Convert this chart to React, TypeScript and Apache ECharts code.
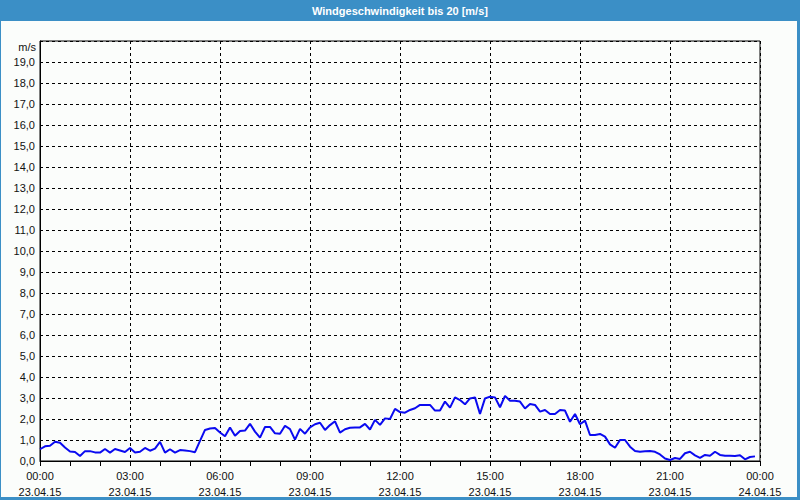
import React, { useEffect, useRef } from "react";
import * as echarts from "echarts";

const TITLE = "Windgeschwindigkeit bis 20 [m/s]";
const UNIT = "m/s";
const START_DAY = "23.04.15";
const END_DAY = "24.04.15";
const STEP_MINUTES = 10;

// wind speed every 10 minutes, 00:00 .. 23:50
const windSpeed = [
  0.56, 0.7, 0.73, 0.92, 0.87, 0.64, 0.45, 0.43, 0.24, 0.47, 0.47, 0.41,
  0.4, 0.57, 0.4, 0.57, 0.5, 0.43, 0.62, 0.4, 0.44, 0.62, 0.49, 0.59,
  0.91, 0.4, 0.56, 0.4, 0.52, 0.5, 0.47, 0.42, 0.96, 1.48, 1.55, 1.57,
  1.36, 1.18, 1.6, 1.2, 1.43, 1.45, 1.77, 1.4, 1.11, 1.62, 1.62, 1.32,
  1.3, 1.68, 1.52, 1.02, 1.53, 1.3, 1.6, 1.75, 1.82, 1.48, 1.71, 1.89,
  1.35, 1.51, 1.58, 1.59, 1.6, 1.77, 1.5, 1.96, 1.72, 2.03, 2.0, 2.48,
  2.33, 2.3, 2.43, 2.51, 2.67, 2.67, 2.67, 2.4, 2.4, 2.83, 2.54, 3.03,
  2.9, 2.7, 2.98, 3.03, 2.24, 2.98, 3.06, 3.03, 2.56, 3.1, 2.87, 2.87,
  2.83, 2.5, 2.71, 2.67, 2.35, 2.43, 2.24, 2.24, 2.43, 2.4, 1.87, 2.24,
  1.75, 1.92, 1.24, 1.24, 1.29, 1.16, 0.79, 0.63, 1.0, 1.0, 0.68, 0.48,
  0.44, 0.46, 0.48, 0.44, 0.31, 0.12, 0.05, 0.14, 0.1, 0.37, 0.44, 0.27,
  0.15, 0.29, 0.25, 0.44, 0.29, 0.25, 0.25, 0.24, 0.27, 0.08, 0.19, 0.22,
];

const Y_MIN = 0;
const Y_MAX = 20;
const X_MIN = 0;
const X_MAX = 1440;

const FONT = "'Liberation Sans', Arial, sans-serif";

export default function App() {
  const ref = useRef<HTMLDivElement>(null);

  useEffect(() => {
    document.body.style.margin = "0";
    const chart = echarts.init(ref.current!, null, { renderer: "svg" });
    const pad = (n: number) => (n < 10 ? "0" + n : "" + n);
    const data = windSpeed.map((v, i) => [i * STEP_MINUTES, v]);
    const blue = "#3b8fc6";

    chart.setOption({
      animation: false,
      backgroundColor: "#fbfdfb",
      grid: {
        left: 40,
        right: 40,
        top: 41,
        bottom: 39,
        show: true,
        borderColor: "#000",
        borderWidth: 1,
      },
      xAxis: {
        type: "value",
        min: X_MIN,
        max: X_MAX,
        interval: 180,
        axisLine: { show: true, lineStyle: { color: "#000", width: 1 } },
        axisTick: { show: true, length: 5, lineStyle: { color: "#000" } },
        minorTick: { show: true, splitNumber: 3, length: 5, lineStyle: { color: "#000" } },
        splitLine: { show: true, lineStyle: { color: "#000", type: [3, 3], width: 1 } },
        axisLabel: {
          margin: 7,
          color: "#111",
          fontFamily: FONT,
          fontSize: 11,
          lineHeight: 16,
          showMinLabel: true,
          showMaxLabel: true,
          formatter: (v: number) => {
            const h = Math.floor(v / 60) % 24;
            const m = v % 60;
            return pad(h) + ":" + pad(m) + "\n" + (v >= X_MAX ? END_DAY : START_DAY);
          },
        },
      },
      yAxis: {
        type: "value",
        min: Y_MIN,
        max: Y_MAX,
        interval: 1,
        axisLine: { show: true, lineStyle: { color: "#000", width: 1 } },
        axisTick: { show: false },
        splitLine: { show: true, lineStyle: { color: "#000", type: [3, 3], width: 1 } },
        axisLabel: {
          margin: 5,
          color: "#111",
          fontFamily: FONT,
          fontSize: 11,
          formatter: (v: number) => (v >= Y_MAX ? "" : v.toFixed(1).replace(".", ",")),
        },
      },
      graphic: [
        { type: "rect", shape: { x: 0, y: 0, width: 800, height: 21 }, style: { fill: blue }, silent: true },
        { type: "rect", shape: { x: 0, y: 21, width: 1, height: 479 }, style: { fill: blue }, silent: true },
        { type: "rect", shape: { x: 797, y: 21, width: 3, height: 479 }, style: { fill: blue }, silent: true },
        { type: "rect", shape: { x: 0, y: 497, width: 800, height: 3 }, style: { fill: blue }, silent: true },
        {
          type: "text",
          x: 400,
          y: 11,
          style: {
            text: TITLE,
            fill: "#fff",
            font: "bold 11px " + FONT,
            textAlign: "center",
            textVerticalAlign: "middle",
          },
          silent: true,
        },
        {
          type: "text",
          x: 36,
          y: 47,
          style: {
            text: UNIT,
            fill: "#111",
            font: "11px " + FONT,
            textAlign: "right",
            textVerticalAlign: "middle",
          },
          silent: true,
        },
      ],
      series: [
        {
          type: "line",
          data,
          showSymbol: false,
          symbol: "none",
          lineStyle: { color: "#0a0af0", width: 2 },
          z: 5,
        },
      ],
    });
    return () => chart.dispose();
  }, []);

  return <div ref={ref} style={{ width: 800, height: 500, position: "absolute", left: 0, top: 0 }} />;
}
